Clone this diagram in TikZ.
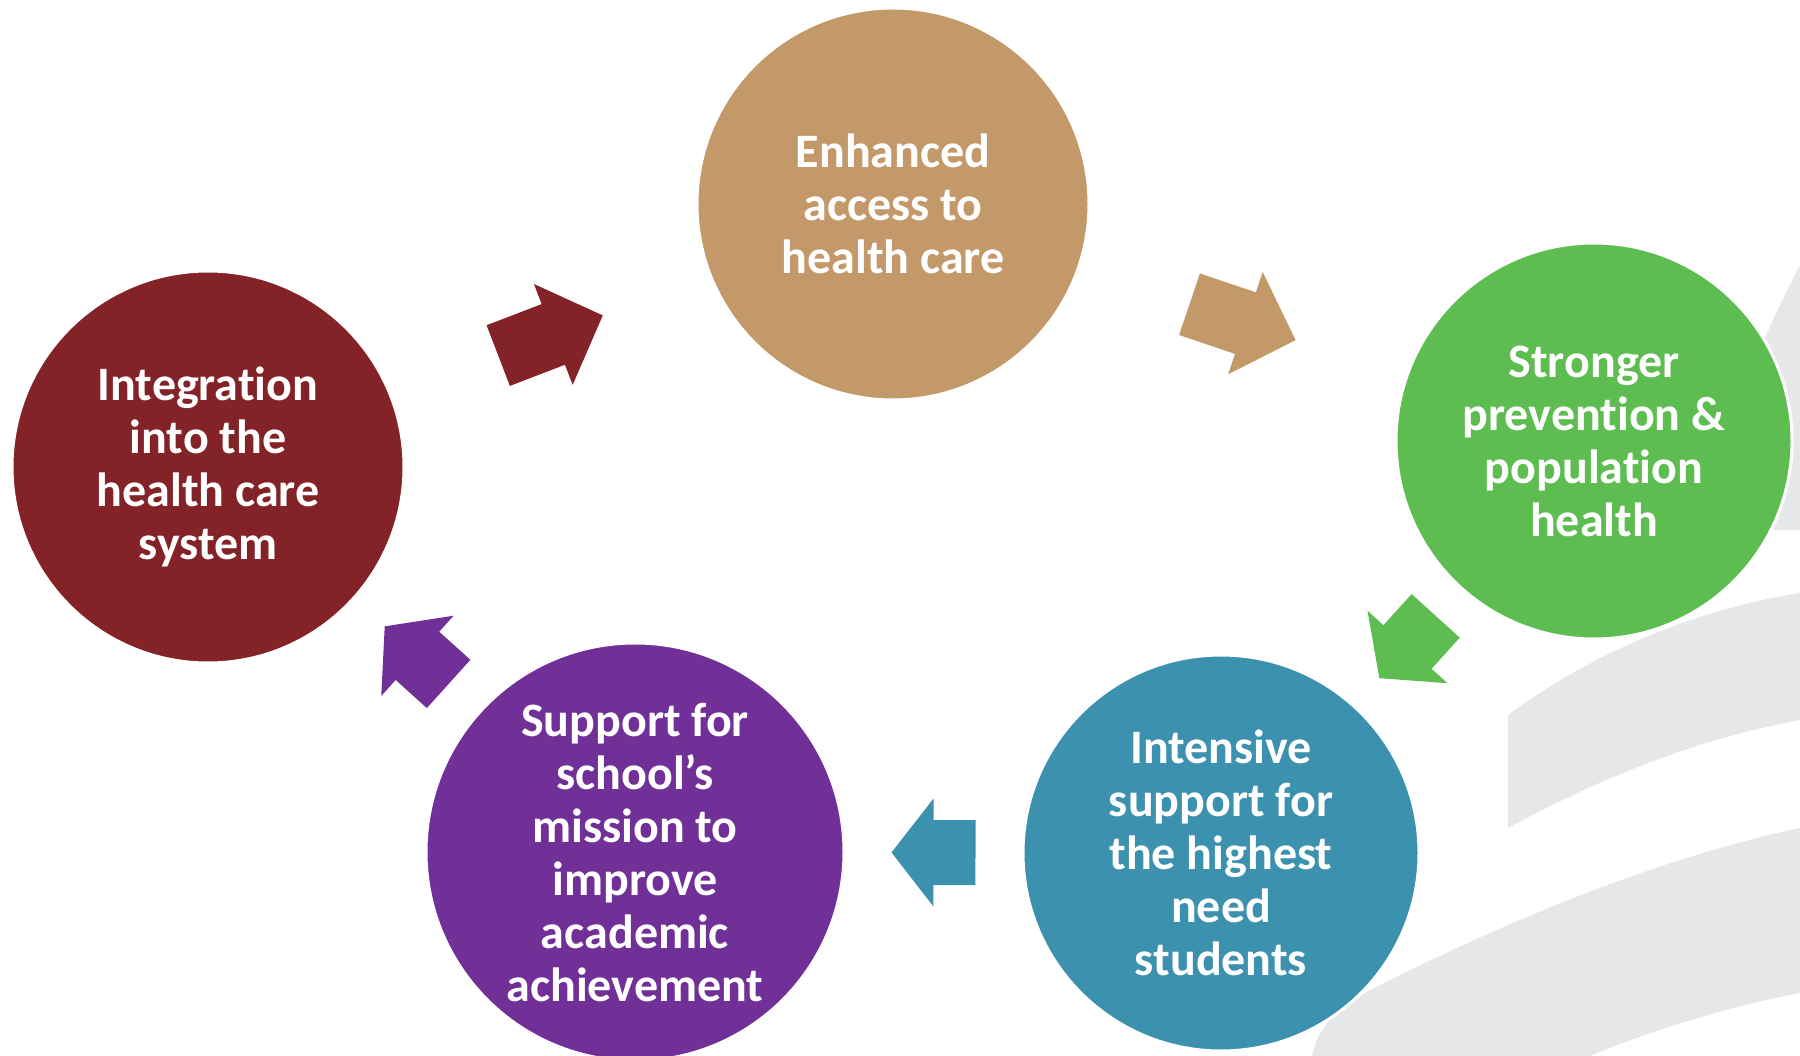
\documentclass[tikz,border=0pt]{standalone}
\usepackage{fontspec}
\setmainfont{Carlito}[Ligatures=NoCommon]

\definecolor{integred}{HTML}{832328}
\definecolor{accesstan}{HTML}{C4996A}
\definecolor{preventgreen}{HTML}{5DBD50}
\definecolor{intensteal}{HTML}{3B91AE}
\definecolor{missionpurple}{HTML}{703097}
\definecolor{swooshgrey}{HTML}{E6E7E8}

\tikzset{
    stage/.style={circle, fill=#1, draw=white, line width=3pt, inner sep=0pt,
        text=white, align=center, font=\fontsize{48}{53}\selectfont\bfseries},
    swoosh/.style={fill=swooshgrey},
    pics/flowarrow/.style 2 args={code={
        \path[pic actions] (-#1/2,-32.5) -- ({#1/2-#2},-32.5) -- ({#1/2-#2},-54) -- (#1/2,0)
            -- ({#1/2-#2},54) -- ({#1/2-#2},32.5) -- (-#1/2,32.5) -- cycle;
    }}
}

\begin{document}
\begin{tikzpicture}[x=1pt, y=-1pt]
    \useasboundingbox (0,0) rectangle (1800,1056);
    \clip (0,0) rectangle (1800,1056);

    % grey swooshes behind
    \fill[swoosh] (1800,265) .. controls (1772,320) and (1742,380) .. (1737,440) -- (1737,530) -- (1800,530) -- cycle;
    \fill[swoosh] (1508,715) .. controls (1580,662) and (1680,612) .. (1800,593) -- (1800,720)
        .. controls (1700,738) and (1600,778) .. (1508,828) -- cycle;
    \fill[swoosh] (1312,1056) .. controls (1318,1025) and (1340,1005) .. (1380,985)
        .. controls (1500,925) and (1650,860) .. (1800,828) -- (1800,993)
        .. controls (1720,1008) and (1640,1035) .. (1590,1056) -- cycle;

    \node[stage=integred, minimum size=392pt] (integ) at (208,467) {Integration\\into the\\health care\\system};
    \node[stage=accesstan, minimum size=392pt] (access) at (893,204) {Enhanced\\access to\\health care};
    \node[stage=preventgreen, minimum size=396pt] (prevent) at (1594,441) {Stronger\\prevention \&\\population\\health};
    \node[stage=intensteal, minimum size=396pt] (intens) at (1221,853) {Intensive\\support for\\the highest\\need\\students};
    \node[stage=missionpurple, minimum size=418pt] (mission) at (635,852) {Support for\\school’s\\mission to\\improve\\academic\\achievement};

    % block arrows round the cycle
    \path (integ) -- pic[midway, sloped, allow upside down, fill=integred]{flowarrow={112}{53}} (access);
    \path (access) -- pic[midway, sloped, allow upside down, fill=accesstan]{flowarrow={112}{53}} (prevent);
    \path (prevent) -- pic[midway, sloped, allow upside down, fill=preventgreen]{flowarrow={84}{42}} (intens);
    \path (intens) -- pic[midway, sloped, allow upside down, fill=intensteal]{flowarrow={84}{42}} (mission);
    \path (mission) -- pic[midway, sloped, allow upside down, fill=missionpurple]{flowarrow={86}{44}} (integ);
\end{tikzpicture}
\end{document}
